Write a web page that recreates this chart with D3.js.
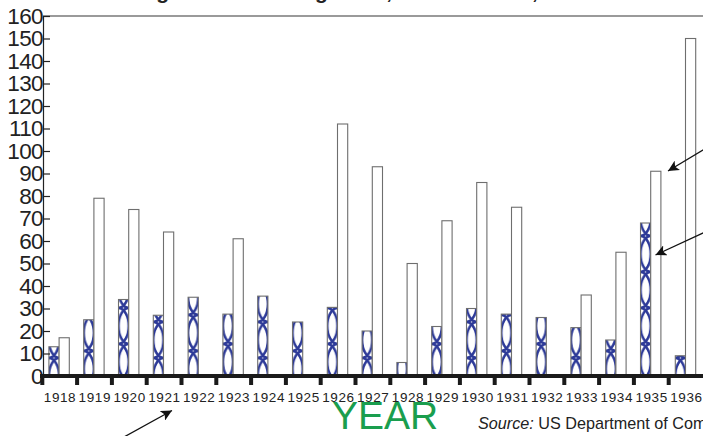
<!DOCTYPE html>
<html>
<head>
<meta charset="utf-8">
<script src="https://cdn.jsdelivr.net/npm/d3@7"></script>
<style>
  body { margin: 0; background: #fff; }
  svg { display: block; }
</style>
</head>
<body>
<svg width="703" height="436"></svg>
<script>
var years = [1918, 1919, 1920, 1921, 1922, 1923, 1924, 1925, 1926, 1927,
  1928, 1929, 1930, 1931, 1932, 1933, 1934, 1935, 1936];
var patternValues = [13, 25, 34, 27, 35, 27.5, 35.5, 24, 30.5, 20,
  6, 22, 30, 27.5, 26, 21.5, 16, 68, 9];
var whiteValues = [17, 79, 74, 64, null, 61, null, null, 112, 93,
  50, 69, 86, 75, null, 36, 55, 91, 150];
var yTicks = [0, 10, 20, 30, 40, 50, 60, 70, 80, 90, 100, 110, 120, 130, 140, 150, 160];

var svg = d3.select('svg');
var blue = '#2d3a98';
var barW = 10.2;
var barOff = 6.6;
var tileH = 36;

var x = d3.scaleBand().domain(years).range([42.3, 703.5]).padding(0);
var y = d3.scaleLinear().domain([0, 160]).range([376, 16]);

// cut-off title at the very top
svg.append('text')
  .attr('x', 388)
  .attr('y', -1.5)
  .attr('text-anchor', 'middle')
  .attr('font-family', 'Liberation Sans, Arial, sans-serif')
  .attr('font-weight', 'bold')
  .attr('font-size', 21)
  .attr('fill', '#222')
  .text('Immigration and Emigration, United States, 1918 to 1936');

// top border
svg.append('line')
  .attr('x1', 43).attr('x2', 703)
  .attr('y1', y(160)).attr('y2', y(160))
  .attr('stroke', '#9a9a9a')
  .attr('stroke-width', 2.2);

// patterns, one per bar so the phase follows the bar
var defs = svg.append('defs');
var pats = defs.selectAll('pattern')
  .data(years)
  .join('pattern')
  .attr('id', function(d) { return 'pat' + d; })
  .attr('patternUnits', 'userSpaceOnUse')
  .attr('x', function(d) { return x(d) + barOff; })
  .attr('y', function(d, i) { return y(0) - (i % 3) * 7; })
  .attr('width', barW)
  .attr('height', tileH);
pats.append('rect')
  .attr('width', barW).attr('height', tileH).attr('fill', '#fff');
[[0, 0], [0, tileH], [barW, 0], [barW, tileH]].forEach(function(c) {
  pats.append('ellipse')
    .attr('cx', c[0]).attr('cy', c[1])
    .attr('rx', barW).attr('ry', tileH / 2)
    .attr('fill', 'none')
    .attr('stroke', blue)
    .attr('stroke-width', 2.5);
});

// patterned bars
svg.selectAll('.pbar')
  .data(years)
  .join('rect')
  .attr('class', 'pbar')
  .attr('x', function(d) { return x(d) + barOff; })
  .attr('y', function(d, i) { return y(patternValues[i]); })
  .attr('width', barW)
  .attr('height', function(d, i) { return y(0) - y(patternValues[i]); })
  .attr('fill', function(d) { return 'url(#pat' + d + ')'; })
  .attr('stroke', '#6e6e6e')
  .attr('stroke-width', 1.1);

// white bars
var whiteData = years.map(function(d, i) { return { year: d, v: whiteValues[i] }; })
  .filter(function(d) { return d.v != null; });
svg.selectAll('.wbar')
  .data(whiteData)
  .join('rect')
  .attr('class', 'wbar')
  .attr('x', function(d) { return x(d.year) + barOff + barW; })
  .attr('y', function(d) { return y(d.v); })
  .attr('width', barW)
  .attr('height', function(d) { return y(0) - y(d.v); })
  .attr('fill', '#fff')
  .attr('stroke', '#6e6e6e')
  .attr('stroke-width', 1.1);

// y axis
var yAxis = d3.axisLeft(y).tickValues(yTicks).tickSize(0).tickPadding(0);
var yg = svg.append('g').attr('transform', 'translate(43,0)').call(yAxis);
yg.select('.domain').attr('stroke', '#222').attr('stroke-width', 1.2);
yg.selectAll('.tick line').remove();
yg.selectAll('.tick').append('line')
  .attr('x1', 0).attr('x2', 7)
  .attr('stroke', '#222').attr('stroke-width', 1.2);
yg.selectAll('.tick text')
  .attr('x', 0)
  .attr('dy', '0.33em')
  .attr('font-family', 'Liberation Sans Narrow, Arial Narrow, Liberation Sans, sans-serif')
  .attr('font-size', 22.5)
  .attr('fill', '#222')
  .attr('letter-spacing', -0.6);

// x axis
svg.append('line')
  .attr('x1', 40).attr('x2', 703)
  .attr('y1', y(0)).attr('y2', y(0))
  .attr('stroke', '#1a1a1a')
  .attr('stroke-width', 4);
svg.selectAll('.xtick')
  .data(years)
  .join('rect')
  .attr('class', 'xtick')
  .attr('x', function(d) { return x(d) - 2; })
  .attr('y', y(0))
  .attr('width', 4)
  .attr('height', 9)
  .attr('fill', '#1a1a1a');
svg.selectAll('.xlabel')
  .data(years)
  .join('text')
  .attr('class', 'xlabel')
  .attr('x', function(d) { return x(d) + x.bandwidth() / 2 + 0.3; })
  .attr('y', 401.5)
  .attr('text-anchor', 'middle')
  .attr('font-family', 'Liberation Sans, Arial, sans-serif')
  .attr('font-size', 13.5)
  .attr('letter-spacing', 0.6)
  .attr('fill', '#222')
  .text(function(d) { return d; });

// axis title
svg.append('text')
  .attr('x', 385)
  .attr('y', 428.5)
  .attr('text-anchor', 'middle')
  .attr('font-family', 'Liberation Sans, Arial, sans-serif')
  .attr('font-size', 39)
  .attr('fill', '#1a9e4e')
  .text('YEAR');

// source line
var src = svg.append('text')
  .attr('x', 478)
  .attr('y', 429)
  .attr('font-family', 'Liberation Sans, Arial, sans-serif')
  .attr('font-size', 16.2)
  .attr('fill', '#222');
src.append('tspan').attr('font-style', 'italic').text('Source:');
src.append('tspan').text(' US Department of Commerce');

// arrows
defs.append('marker')
  .attr('id', 'head')
  .attr('viewBox', '0 0 10 10')
  .attr('refX', 10).attr('refY', 5)
  .attr('markerWidth', 11).attr('markerHeight', 11)
  .attr('markerUnits', 'userSpaceOnUse')
  .attr('orient', 'auto')
  .append('path')
  .attr('d', 'M0,0 L10,5 L0,10 L2.5,5 Z')
  .attr('fill', '#111');

var arrows = [
  [124, 437, 172, 410.5],
  [704, 149.5, 668, 171],
  [704, 232.5, 655.5, 255]
];
svg.selectAll('.arrow')
  .data(arrows)
  .join('line')
  .attr('class', 'arrow')
  .attr('x1', function(d) { return d[0]; })
  .attr('y1', function(d) { return d[1]; })
  .attr('x2', function(d) { return d[2]; })
  .attr('y2', function(d) { return d[3]; })
  .attr('stroke', '#111')
  .attr('stroke-width', 1.3)
  .attr('marker-end', 'url(#head)');
</script>
</body>
</html>
